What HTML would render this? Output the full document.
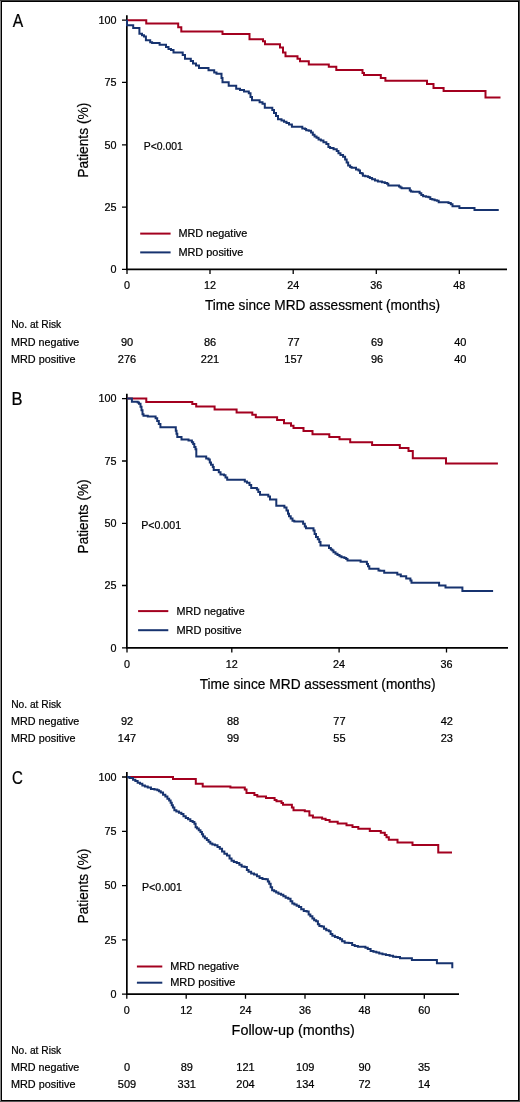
<!DOCTYPE html><html><head><meta charset="utf-8"><style>html,body{margin:0;padding:0;background:#fff;}svg{display:block;will-change:transform;}text{font-family:"Liberation Sans", sans-serif;fill:#000;stroke:#000;stroke-width:0.22px;}</style></head><body>
<svg width="520" height="1102" viewBox="0 0 520 1102">
<rect x="0" y="0" width="520" height="1102" fill="#fff"/>
<text x="12.87" y="27.1" font-size="17.9" textLength="10.46" lengthAdjust="spacingAndGlyphs">A</text>
<path d="M126.85 15.2 V269.4 H507" fill="none" stroke="#000" stroke-width="1.7"/>
<path d="M122 20.1H127M122 82.4H127M122 144.8H127M122 207.1H127M122 269.4H127M127 269.4V273.9M210 269.4V273.9M293.2 269.4V273.9M376.3 269.4V273.9M459.3 269.4V273.9" fill="none" stroke="#000" stroke-width="1.3"/>
<text x="116.5" y="23.9" font-size="10.8" text-anchor="end">100</text>
<text x="116.5" y="86.2" font-size="10.8" text-anchor="end">75</text>
<text x="116.5" y="148.6" font-size="10.8" text-anchor="end">50</text>
<text x="116.5" y="210.9" font-size="10.8" text-anchor="end">25</text>
<text x="116.5" y="273.2" font-size="10.8" text-anchor="end">0</text>
<text x="127" y="289.2" font-size="10.8" text-anchor="middle">0</text>
<text x="210" y="289.2" font-size="10.8" text-anchor="middle">12</text>
<text x="293.2" y="289.2" font-size="10.8" text-anchor="middle">24</text>
<text x="376.3" y="289.2" font-size="10.8" text-anchor="middle">36</text>
<text x="459.3" y="289.2" font-size="10.8" text-anchor="middle">48</text>
<text x="204.89" y="309.8" font-size="15.2" textLength="235.15" lengthAdjust="spacingAndGlyphs">Time since MRD assessment (months)</text>
<text transform="translate(87.8 177.73) rotate(-90)" font-size="15.2" textLength="75.09" lengthAdjust="spacingAndGlyphs">Patients (%)</text>
<text x="143.75" y="149.9" font-size="10.8" textLength="39.06" lengthAdjust="spacingAndGlyphs">P&lt;0.001</text>
<path d="M140.2 233.6H170.6" stroke="#a3001f" stroke-width="2" fill="none"/>
<path d="M140.2 252.4H170.6" stroke="#17336f" stroke-width="2" fill="none"/>
<text x="178.41" y="237.3" font-size="11" textLength="68.87" lengthAdjust="spacingAndGlyphs">MRD negative</text>
<text x="178.4" y="256" font-size="11" textLength="64.88" lengthAdjust="spacingAndGlyphs">MRD positive</text>
<text x="11.16" y="328.3" font-size="11.2" textLength="50.02" lengthAdjust="spacingAndGlyphs">No. at Risk</text>
<text x="11.02" y="345.5" font-size="11.2" textLength="68.26" lengthAdjust="spacingAndGlyphs">MRD negative</text>
<text x="11.01" y="362.5" font-size="11.2" textLength="64.47" lengthAdjust="spacingAndGlyphs">MRD positive</text>
<text x="127" y="345.5" font-size="11" text-anchor="middle">90</text>
<text x="127" y="362.5" font-size="11" text-anchor="middle">276</text>
<text x="210" y="345.5" font-size="11" text-anchor="middle">86</text>
<text x="210" y="362.5" font-size="11" text-anchor="middle">221</text>
<text x="293.5" y="345.5" font-size="11" text-anchor="middle">77</text>
<text x="293.5" y="362.5" font-size="11" text-anchor="middle">157</text>
<text x="377" y="345.5" font-size="11" text-anchor="middle">69</text>
<text x="377" y="362.5" font-size="11" text-anchor="middle">96</text>
<text x="460.3" y="345.5" font-size="11" text-anchor="middle">40</text>
<text x="460.3" y="362.5" font-size="11" text-anchor="middle">40</text>
<path d="M127 20.3H146.25V23.4H178.2V27.3H181.3V31.5H222.5V34H249.5V39.3H263V41.3H265V44.3H280V47.5H283V52.5H285.5V56.3H297.5V58.8H300V61.3H308.8V64.5H328.8V66.8H336.3V70H362.5V73H364V75H380.8V77.9H385.4V80.8H427V84H433.5V88H443.6V90.9H485.5V97.5H500.5" fill="none" stroke="#a3001f" stroke-width="2"/>
<path d="M127 19.8V25.2H133.2V27.9H139.4V33.7H142V35.2H144V36.4H145.9V40.2H150.2V42.2H152.1V43.1H159.6V44.7H166V47H168.5V49H171V50H173.5V52.4H182.7V55H185V58.8H190.8V61H193V63.5H196V65.5H199V68H208.5V70.2H214.2V72.5H216.5V73.7H221.5V78H222.5V82.3H228.7V85.8H236.2V88.7H240V90H244V91.6H248.8V93.3H250.5V97H252V100.2H259.6V102.2H262.5V103.7H264.8V107.7H272.3V110H274V113H276V116H278V119.2H281.5V120.5H284V121.8H286.5V123H289V124.4H291.9V126.7H302.3V128.5H305V129H306.15V130.2H307.3H308.75V130.8H310.2H311.05V132.5H311.9H312.8V134.8H313.7H314.55V136.5H315.4H316.55V137.7H317.7H318.55V139.4H319.4H320.85V140.6H322.3H323.45V142.3H324.6H326.35V144H328.1H328.4V146.9H328.7H330.1V148.1H331.5H333.55V149.2H335.6H336.75V151H337.9H338.45V153.3H339H340.45V155H341.9H343.05V156.7H344.2H345.1V159.6H346H346.65V162.5H347.3H348.15V165.4H349H350.15V167.1H351.3H351.6V167.7H351.9H356V169.4H358.5V170.6H360V172.9H361.7V173.5H362.9V175.8H365.2V176.3H368.1V176.9H369.8V178.1H372.1V179.2H375V180.4H377.9V181.5H381.9V182.3H384.8V183H387.1V183.8H388.3V185.6H399V186.5H400.4V187.5H401.7V188.3H409.8V190.4H411V191.5H412.7V191.8H419.6V193.3H421.3V195H423.1V196.2H426V196.7H428.5V197.3H430.3V199H432.3V199.6H434.6V200.2H436.9V200.8H438.7V202.2H448.5V203.1H450.8V204.2H452.5V206.2H453.7V206.3H459.4V208H474.5V210H498.75" fill="none" stroke="#17336f" stroke-width="2"/>
<text x="11.54" y="404.8" font-size="17.9" textLength="11.03" lengthAdjust="spacingAndGlyphs">B</text>
<path d="M126.85 393.7 V647.9 H508" fill="none" stroke="#000" stroke-width="1.7"/>
<path d="M122 398.6H127M122 461H127M122 523.4H127M122 585.5H127M122 647.9H127M127 647.9V652.4M231.8 647.9V652.4M339.1 647.9V652.4M446.5 647.9V652.4" fill="none" stroke="#000" stroke-width="1.3"/>
<text x="116.5" y="402.4" font-size="10.8" text-anchor="end">100</text>
<text x="116.5" y="464.8" font-size="10.8" text-anchor="end">75</text>
<text x="116.5" y="527.2" font-size="10.8" text-anchor="end">50</text>
<text x="116.5" y="589.3" font-size="10.8" text-anchor="end">25</text>
<text x="116.5" y="651.7" font-size="10.8" text-anchor="end">0</text>
<text x="127" y="667.7" font-size="10.8" text-anchor="middle">0</text>
<text x="231.8" y="667.7" font-size="10.8" text-anchor="middle">12</text>
<text x="339.1" y="667.7" font-size="10.8" text-anchor="middle">24</text>
<text x="446.5" y="667.7" font-size="10.8" text-anchor="middle">36</text>
<text x="199.69" y="689" font-size="15.2" textLength="235.76" lengthAdjust="spacingAndGlyphs">Time since MRD assessment (months)</text>
<text transform="translate(87.9 553.41) rotate(-90)" font-size="15.2" textLength="73.96" lengthAdjust="spacingAndGlyphs">Patients (%)</text>
<text x="141.23" y="529" font-size="10.8" textLength="39.89" lengthAdjust="spacingAndGlyphs">P&lt;0.001</text>
<path d="M138.1 611.1H168.3" stroke="#a3001f" stroke-width="2" fill="none"/>
<path d="M138.1 630.2H168.3" stroke="#17336f" stroke-width="2" fill="none"/>
<text x="176.42" y="615.2" font-size="11" textLength="68.26" lengthAdjust="spacingAndGlyphs">MRD negative</text>
<text x="176.4" y="633.7" font-size="11" textLength="65.29" lengthAdjust="spacingAndGlyphs">MRD positive</text>
<text x="11.16" y="707.5" font-size="11.2" textLength="50.02" lengthAdjust="spacingAndGlyphs">No. at Risk</text>
<text x="11.02" y="724.9" font-size="11.2" textLength="68.26" lengthAdjust="spacingAndGlyphs">MRD negative</text>
<text x="11.01" y="742.2" font-size="11.2" textLength="64.47" lengthAdjust="spacingAndGlyphs">MRD positive</text>
<text x="127" y="724.9" font-size="11" text-anchor="middle">92</text>
<text x="127" y="742.2" font-size="11" text-anchor="middle">147</text>
<text x="233" y="724.9" font-size="11" text-anchor="middle">88</text>
<text x="233" y="742.2" font-size="11" text-anchor="middle">99</text>
<text x="339.4" y="724.9" font-size="11" text-anchor="middle">77</text>
<text x="339.4" y="742.2" font-size="11" text-anchor="middle">55</text>
<text x="446.8" y="724.9" font-size="11" text-anchor="middle">42</text>
<text x="446.8" y="742.2" font-size="11" text-anchor="middle">23</text>
<path d="M127 398.6H146.3V402H192.3V404H196.2V406.6H214.6V409.5H236.6V412.4H252.3V414.8H255.8V417.2H277.1V420H284V423.2H291V425.8H293.5V428H303.5V431H312.5V434.2H329.3V436.9H339.5V439.3H350.2V442.3H372.1V445H399.8V447.9H408.5V451.1H412.8V458.3H446V463.5H497.9" fill="none" stroke="#a3001f" stroke-width="2"/>
<path d="M127 398.6H131.9V401.8H137.7V402.5H139V403.8H140.5V406.7H141.5V410.2H142.5V414.2H143.5V415.7H147.8V416.5H155.6V418.2H157.2V421.1H158.8V424H160.4V427.2H175.8V430.8H176.5V433.7H177.3V437.1H181.5V439.4H188.5V440.6H191.9V442.3H193.2V444H194.3V446.9H195.5V449.2H196.3V456.4H206.2V458.5H208.5V459.6H209.8V462.5H211V464.8H212.8V467.1H213.7V470H218.8V472.3H220.5V474.6H224V475.2H225.5V477.5H227.2V479.8H244.8V481.5H247V482.7H249.5V485H251.2V487.9H256.9V489.6H258.3V491.9H260V494.8H268.3V496.5H270V499.4H276.3V505.8H284.4V507.5H286.5V510.4H288V513.8H289V516.2H290.7V518.5H292.5V520.8H294.3V521.5H303.1V523.7H304.8V526.5H306V528.3H313.5V530.6H314.6V534H316V536.9H317.8V539.2H319.3V542.1H320.5V545.6H329V547.9H330.8V549.4H332.3V550.4H333.5V552.2H335.5V553.7H337.5V555H339.5V556.2H341.5V557.2H344.4V557.9H346.2V558.9H347.5V560.6H360.6V561.7H366.9V564H368V566.3H369.3V568.7H378.5V570.4H380.2V570.8H384.2V572.7H397.3V574.6H400.8V576.2H406.2V578.5H410.4V580.4H411.5V582.7H439.1V585.4H445.5V587.5H462.4V591.1H493.1" fill="none" stroke="#17336f" stroke-width="2"/>
<text x="12.04" y="783.8" font-size="17.9" textLength="10.83" lengthAdjust="spacingAndGlyphs">C</text>
<path d="M126.85 771.9 V994.2 H459" fill="none" stroke="#000" stroke-width="1.7"/>
<path d="M122 777H127M122 831.3H127M122 885.6H127M122 939.9H127M122 994.2H127M126.8 994.2V998.7M186.2 994.2V998.7M245.5 994.2V998.7M305 994.2V998.7M364.6 994.2V998.7M424.3 994.2V998.7" fill="none" stroke="#000" stroke-width="1.3"/>
<text x="116.5" y="780.8" font-size="10.8" text-anchor="end">100</text>
<text x="116.5" y="835.1" font-size="10.8" text-anchor="end">75</text>
<text x="116.5" y="889.4" font-size="10.8" text-anchor="end">50</text>
<text x="116.5" y="943.7" font-size="10.8" text-anchor="end">25</text>
<text x="116.5" y="998" font-size="10.8" text-anchor="end">0</text>
<text x="126.8" y="1014" font-size="10.8" text-anchor="middle">0</text>
<text x="186.2" y="1014" font-size="10.8" text-anchor="middle">12</text>
<text x="245.5" y="1014" font-size="10.8" text-anchor="middle">24</text>
<text x="305" y="1014" font-size="10.8" text-anchor="middle">36</text>
<text x="364.6" y="1014" font-size="10.8" text-anchor="middle">48</text>
<text x="424.3" y="1014" font-size="10.8" text-anchor="middle">60</text>
<text x="231.62" y="1034.8" font-size="15.2" textLength="123.27" lengthAdjust="spacingAndGlyphs">Follow-up (months)</text>
<text transform="translate(87.8 923.43) rotate(-90)" font-size="15.2" textLength="74.78" lengthAdjust="spacingAndGlyphs">Patients (%)</text>
<text x="142.03" y="891.3" font-size="10.8" textLength="39.89" lengthAdjust="spacingAndGlyphs">P&lt;0.001</text>
<path d="M136.9 966.5H162.3" stroke="#a3001f" stroke-width="2" fill="none"/>
<path d="M136.9 982.7H162.3" stroke="#17336f" stroke-width="2" fill="none"/>
<text x="170.21" y="969.9" font-size="11" textLength="68.77" lengthAdjust="spacingAndGlyphs">MRD negative</text>
<text x="170.2" y="985.7" font-size="11" textLength="65.29" lengthAdjust="spacingAndGlyphs">MRD positive</text>
<text x="11.16" y="1053.6" font-size="11.2" textLength="50.02" lengthAdjust="spacingAndGlyphs">No. at Risk</text>
<text x="11.02" y="1071" font-size="11.2" textLength="68.26" lengthAdjust="spacingAndGlyphs">MRD negative</text>
<text x="11.01" y="1088.4" font-size="11.2" textLength="64.47" lengthAdjust="spacingAndGlyphs">MRD positive</text>
<text x="127" y="1071" font-size="11" text-anchor="middle">0</text>
<text x="127" y="1088.4" font-size="11" text-anchor="middle">509</text>
<text x="186.8" y="1071" font-size="11" text-anchor="middle">89</text>
<text x="186.8" y="1088.4" font-size="11" text-anchor="middle">331</text>
<text x="245.5" y="1071" font-size="11" text-anchor="middle">121</text>
<text x="245.5" y="1088.4" font-size="11" text-anchor="middle">204</text>
<text x="305.2" y="1071" font-size="11" text-anchor="middle">109</text>
<text x="305.2" y="1088.4" font-size="11" text-anchor="middle">134</text>
<text x="364.6" y="1071" font-size="11" text-anchor="middle">90</text>
<text x="364.6" y="1088.4" font-size="11" text-anchor="middle">72</text>
<text x="424" y="1071" font-size="11" text-anchor="middle">35</text>
<text x="424" y="1088.4" font-size="11" text-anchor="middle">14</text>
<path d="M127 777H173V779H195.8V783.8H202.7V786.5H230.4V787.6H244.8V789.5H246.5V793H254.4V795H257.3V796.5H266V798.1H274.6V800H276.5V801.3H281.5V803H283V804.8H291.9V807.5H293.5V810.2H304.8V811.3H309.4V815.4H312.9V817.5H322.1V818.8H325.6V820H329.6V821.7H337.7V823.5H346.5V825.2H352.5V826.9H358.3V828.7H369.8V831H380.8V832.7H384.8V835H386.5V837.3H388.8V839.8H397.5V842.5H412.5V845H438.25V852.5H452" fill="none" stroke="#a3001f" stroke-width="2"/>
<path d="M127 777H129.45V778H131.9H133.05V779.8H134.2H135.35V780.9H136.5H137.65V782.7H138.8H140V783.8H141.2H142.35V785.5H143.5H144.9V786.5H146.3H147.75V787.6H149.2H150.95V789H152.7H154.45V789.6H156.2H157.35V790.2H158.5H159.05V791.3H159.6H160.75V792.5H161.9H163.05V794.8H164.2H165.35V796.5H166.5H167.4V798.8H168.3H169.15V800.5H170H170.6V802.8H171.2H171.75V805.2H172.3H172.9V807.5H173.5H174.35V810.3H175.2H176.35V811.5H177.5H178.95V812.7H180.4H181.35V814H182.3H183.45V816.3H184.6H185.75V818.1H186.9H188.05V819.2H189.2H190.35V821H191.5H192.65V822.1H193.8H194.4V823.8H195H195.6V827.3H196.2H197.05V828.5H197.9H198.75V830.2H199.6H200.45V831.9H201.3H201.9V834.2H202.5H203.1V836.5H203.7H204.85V838.3H206H206.85V840H207.7H208.55V841.7H209.4H210.3V843.5H211.2H212.35V844.6H213.5H214.9V845.2H216.3H217.5V846.9H218.7H219.8V848.7H220.9H222.05V851.5H223.2H224.35V853.8H225.5H226.95V855.6H228.4H229.55V858.5H230.7H231.55V860.8H232.4H233.85V861.9H235.3H236.75V863.1H238.2H239.35V864.8H240.5H241.65V866.5H242.8H244.55V867.1H246.3H246.85V870H247.4H248.55V871.7H249.7H251.15V873.5H252.6H254.05V874.6H255.5H256.95V876.3H258.4H259.55V878.1H260.7H262.45V879H264.2H265.8V879.2H267.4H267.85V881.5H268.3H269.2V883.8H270.1H270.65V887.3H271.2H272.1V890.2H273H274.15V891.3H275.3H276.15V892.5H277H278.45V893.7H279.9H281.05V894.8H282.2H283.35V896.3H284.5H285.65V897.7H286.8H288.25V898.8H289.7H290.55V901.2H291.4H292.3V903.5H293.2H294.35V904.6H295.5H296.65V905.8H297.8H298.95V906.9H300.1H301.2V909.2H302.3H303.75V911H305.2H306.65V911.5H308.1H308.65V914.4H309.2H310.35V916.2H311.5H312.4V918.5H313.3H314.15V920.2H315H316.15V921.3H317.3H317.9V924.2H318.5H319.35V926H320.2H321.65V926.5H323.1H323.95V928.8H324.8H326.25V930.2H327.7H328.85V931.2H330H330.6V934H331.2H332.35V935.8H333.5H334.9V936.9H336.3H337.75V938.1H339.2H340.1V939.2H341H342.1V941.3H343.2H344.65V942.8H346.1H348.7V943H351.3H352.15V945.1H353H354.75V945.9H356.5H357.9V946.7H359.3H364.5H365.4V947.8H366.3H367.75V949H369.2H370.6V951.1H372H373.45V951.7H374.9H376.35V952.5H377.8H379.25V953.4H380.7H382.45V954.3H384.2H385.9V955.1H387.6H389.65V955.7H391.7H393.1V956.8H394.5H395.95V957.1H397.4H400V958.3H411.9V959.9H436.9V963.2H452.3V968.3" fill="none" stroke="#17336f" stroke-width="2"/>
<rect x="0" y="0" width="1" height="1102" fill="#888"/>
<rect x="1" y="0" width="1" height="1102" fill="#000"/>
<rect x="0" y="0" width="520" height="1" fill="#3a3a3a"/>
<rect x="1" y="1" width="518" height="1" fill="#000"/>
<rect x="518" y="1" width="1" height="1100" fill="#000"/>
<rect x="519" y="0" width="1" height="1102" fill="#444"/>
<rect x="1" y="1100" width="518" height="1" fill="#000"/>
<rect x="0" y="1101" width="520" height="1" fill="#555"/>
</svg></body></html>
